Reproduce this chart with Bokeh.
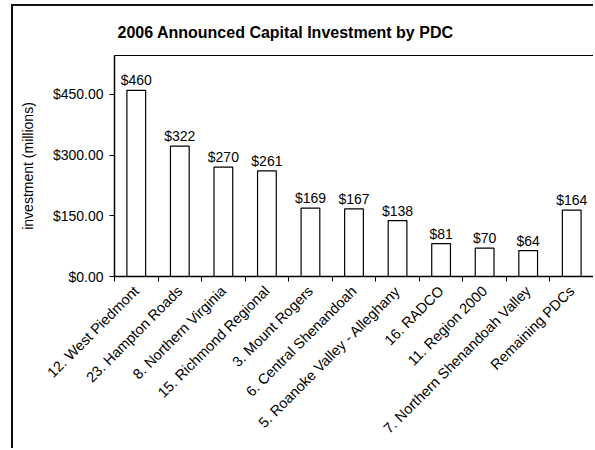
import math
from bokeh.plotting import figure
from bokeh.models import FixedTicker, NumeralTickFormatter, Range1d
from bokeh.embed import file_html
from bokeh.resources import INLINE
from bokeh.core.properties import value

# ---- data ----
categories = [
    "12. West Piedmont",
    "23. Hampton Roads",
    "8. Northern Virginia",
    "15. Richmond Regional",
    "3. Mount Rogers",
    "6. Central Shenandoah",
    "5. Roanoke Valley - Alleghany",
    "16. RADCO",
    "11. Region 2000",
    "7. Northern Shenandoah Valley",
    "Remaining PDCs",
]
investment = [460, 322, 270, 261, 169, 167, 138, 81, 70, 64, 164]
value_labels = ["$460", "$322", "$270", "$261", "$169", "$167", "$138", "$81", "$70", "$64", "$164"]
y_ticks = [0, 150, 300, 450]
title_text = "2006 Announced Capital Investment by PDC"
y_label = "investment (millions)"

FONT = "Liberation Sans"
positions = list(range(len(categories)))
boundaries = [i - 0.5 for i in range(len(categories) + 1)]

p = figure(
    width=582, height=444,
    x_range=Range1d(-0.5, len(categories) - 0.5),
    y_range=Range1d(0, 546),
    output_backend="svg", toolbar_location=None,
    min_border_left=101, min_border_right=2, min_border_top=49, min_border_bottom=174,
    background_fill_color="white", border_fill_color="white",
)
p.styles = {"position": "relative", "left": "11px", "top": "4px",
            "border-left": "2px solid #111", "border-top": "2px solid #111"}

p.title.text = title_text
p.title.align = "left"
p.title.offset = 3
p.title.standoff = 29
p.title.text_font = FONT
p.title.text_font_size = "16px"
p.title.text_font_style = "bold"
p.title.text_color = "black"

p.xgrid.visible = False
p.ygrid.visible = False
p.outline_line_color = "black"
p.outline_line_width = 1

p.vbar(x=positions, top=investment, width=0.43, fill_color="white",
       line_color="black", line_width=1.2)
p.text(x=positions, y=investment, text=value_labels, text_align="center",
       text_baseline="alphabetic", y_offset=-10, text_font=value(FONT),
       text_font_size="14px", text_color="black")

# x axis
xa = p.xaxis[0]
xa.ticker = FixedTicker(ticks=positions, minor_ticks=boundaries)
xa.major_label_overrides = {i: c for i, c in zip(positions, categories)}
xa.major_tick_in = 0
xa.major_tick_out = 0
xa.minor_tick_in = 0
xa.minor_tick_out = 5
xa.minor_tick_line_color = "black"
xa.major_label_orientation = math.pi / 4
xa.major_label_standoff = 7
xa.major_label_text_font = FONT
xa.major_label_text_font_size = "14.5px"
xa.major_label_text_color = "black"
xa.axis_line_color = "black"
xa.axis_line_width = 1.5

# y axis
ya = p.yaxis[0]
ya.ticker = FixedTicker(ticks=y_ticks, minor_ticks=[])
ya.formatter = NumeralTickFormatter(format="$0.00")
ya.major_tick_in = 0
ya.major_tick_out = 5
ya.major_tick_line_color = "black"
ya.minor_tick_line_color = None
ya.major_label_standoff = 6
ya.major_label_text_font = FONT
ya.major_label_text_font_size = "14px"
ya.major_label_text_color = "black"
ya.axis_line_color = "black"
ya.axis_line_width = 1.5
ya.axis_label = y_label
ya.axis_label_text_font = FONT
ya.axis_label_text_font_size = "14px"
ya.axis_label_text_font_style = "normal"
ya.axis_label_text_color = "black"
ya.axis_label_standoff = 14

open("out.html", "w").write(file_html(p, INLINE))
